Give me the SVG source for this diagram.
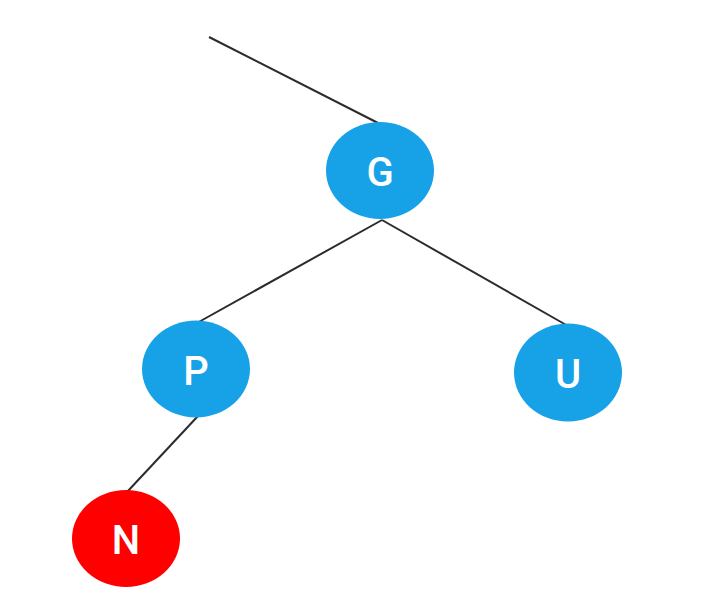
<svg xmlns="http://www.w3.org/2000/svg" width="702" height="612" viewBox="0 0 702 612">
<style>
.edge{stroke:#2b2b2b;stroke-width:2;fill:none}
.blue{fill:#17a2e8}
.red{fill:#ff0000}
.lbl{fill:#fff;font-family:Roboto,"Noto Sans",sans-serif;font-size:40px;font-weight:500;text-anchor:middle;dominant-baseline:central}
</style>
<rect width="702" height="612" fill="#fff"/>
<g id="connectors">
<line class="edge" x1="209" y1="37" x2="380" y2="124"/>
<line class="edge" x1="382" y1="220" x2="197" y2="323"/>
<line class="edge" x1="382" y1="220" x2="568" y2="326"/>
<line class="edge" x1="198" y1="416" x2="127" y2="492"/>
</g>
<g id="G"><ellipse class="blue" cx="380" cy="170.5" rx="54" ry="48.5"/><text class="lbl" x="380" y="172">G</text></g>
<g id="P"><ellipse class="blue" cx="196" cy="369" rx="54" ry="48.5"/><text class="lbl" x="196" y="371">P</text></g>
<g id="U"><ellipse class="blue" cx="568" cy="372.5" rx="54" ry="49"/><text class="lbl" x="568" y="374">U</text></g>
<g id="N"><ellipse class="red" cx="126" cy="538.5" rx="54" ry="48.5"/><text class="lbl" x="126" y="540">N</text></g>
</svg>
